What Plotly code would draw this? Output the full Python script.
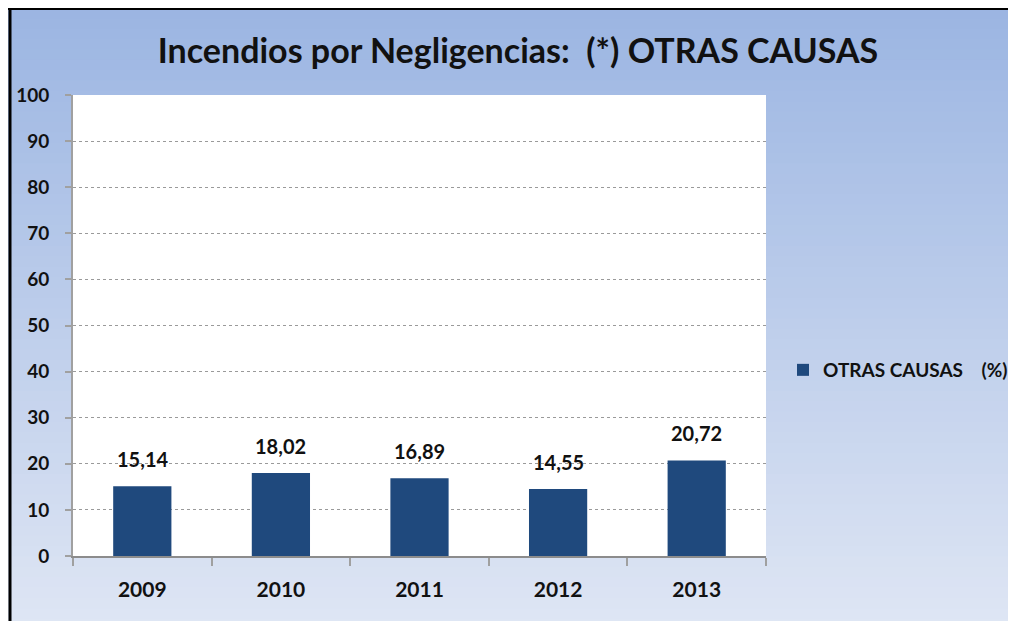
import plotly.graph_objects as go

years = ["2009", "2010", "2011", "2012", "2013"]
values = [15.14, 18.02, 16.89, 14.55, 20.72]
series_name = "OTRAS CAUSAS\u00a0\u00a0\u00a0\u00a0(%)"
title_text = "Incendios por Negligencias:\u00a0\u00a0(*) OTRAS CAUSAS"
y_ticks = [0, 10, 20, 30, 40, 50, 60, 70, 80, 90, 100]

W, H = 1016, 621
OFF = 8  # page body margin
ML, MR, MT, MB = 65, 258, 87, 73
PW, PH = W - ML - MR, H - MT - MB

def px_to_paper_x(px):
    return (px - ML) / PW

def px_to_paper_y(py):
    return (H - MB - py) / PH

BAR = "#1F497D"
FONT = "Lato"

fig = go.Figure()
fig.add_trace(go.Bar(
    x=list(range(len(years))), y=values, name=series_name,
    marker=dict(color=BAR, line=dict(width=0)),
    width=0.42, showlegend=True,
))

# data labels
for i, v in enumerate(values):
    fig.add_annotation(
        x=i, y=v, text=f"{v:.2f}".replace(".", ","),
        showarrow=False, yanchor="bottom", yshift=13,
        font=dict(family=FONT, size=20, color="#111111", weight="bold"),
    )

# gradient background bands
shapes = []
top_c = (155, 181, 226)
bot_c = (223, 230, 244)
x0 = px_to_paper_x(0)
x1 = px_to_paper_x(W + 5)
N = 60
y_top, y_bot = 0, H
for i in range(N):
    a = y_top + (y_bot - y_top) * i / N
    b = y_top + (y_bot - y_top) * (i + 1) / N + 1
    t = (i + 0.5) / N
    c = tuple(int(round(top_c[k] + (bot_c[k] - top_c[k]) * t)) for k in range(3))
    shapes.append(dict(type="rect", xref="paper", yref="paper", layer="below",
                       x0=x0, x1=x1, y0=px_to_paper_y(b), y1=px_to_paper_y(a),
                       fillcolor="rgb(%d,%d,%d)" % c, line=dict(width=0)))
# white plot area
shapes.append(dict(type="rect", xref="paper", yref="paper", layer="below",
                   x0=0, x1=1, y0=0, y1=1, fillcolor="white", line=dict(width=0)))
# black frame (top and left)
shapes.append(dict(type="line", xref="paper", yref="paper",
                   x0=px_to_paper_x(0), x1=x1, y0=px_to_paper_y(0.5), y1=px_to_paper_y(0.5),
                   line=dict(color="black", width=3)))
shapes.append(dict(type="line", xref="paper", yref="paper",
                   x0=px_to_paper_x(2), x1=px_to_paper_x(2), y0=px_to_paper_y(0), y1=px_to_paper_y(H + 5),
                   line=dict(color="black", width=3)))

fig.update_layout(
    width=W, height=H,
    margin=dict(l=ML, r=MR, t=MT, b=MB, autoexpand=False),
    paper_bgcolor="white", plot_bgcolor="white",
    shapes=shapes,
    title=dict(text=title_text, x=(518 - OFF) / W, xref="container", xanchor="center",
               y=1 - (51 - OFF) / H, yref="container", yanchor="middle",
               font=dict(family=FONT, size=34, color="#111111", weight="bold")),
    xaxis=dict(
        range=[-0.5, len(years) - 0.5], tickvals=list(range(len(years))), ticktext=years,
        showgrid=False, showline=True, linecolor="#8c8c8c", linewidth=2,
        ticks="", zeroline=False,
        ticklabelstandoff=14,
        tickfont=dict(family=FONT, size=21, color="#111111", weight="bold"),
        minor=dict(tickvals=[k - 0.5 for k in range(len(years) + 1)], ticks="outside",
                   ticklen=8, tickcolor="#a0a0a0", tickwidth=2, showgrid=False),
    ),
    yaxis=dict(
        range=[0, 100], tickvals=y_ticks, showgrid=True, gridcolor="#9a9a9a", griddash="dot",
        gridwidth=1, showline=True, linecolor="#a0a0a0", linewidth=2, zeroline=False,
        ticks="outside", ticklen=6, tickcolor="#a0a0a0", tickwidth=2, ticklabelstandoff=12,
        tickfont=dict(family=FONT, size=19, color="#111111", weight="bold"),
    ),
    legend=dict(x=px_to_paper_x(775), y=px_to_paper_y(362), xanchor="left", yanchor="middle",
                bgcolor="rgba(0,0,0,0)", itemwidth=30,
                font=dict(family=FONT, size=19, color="#111111", weight="bold")),
)

fig.write_html("out.html")
